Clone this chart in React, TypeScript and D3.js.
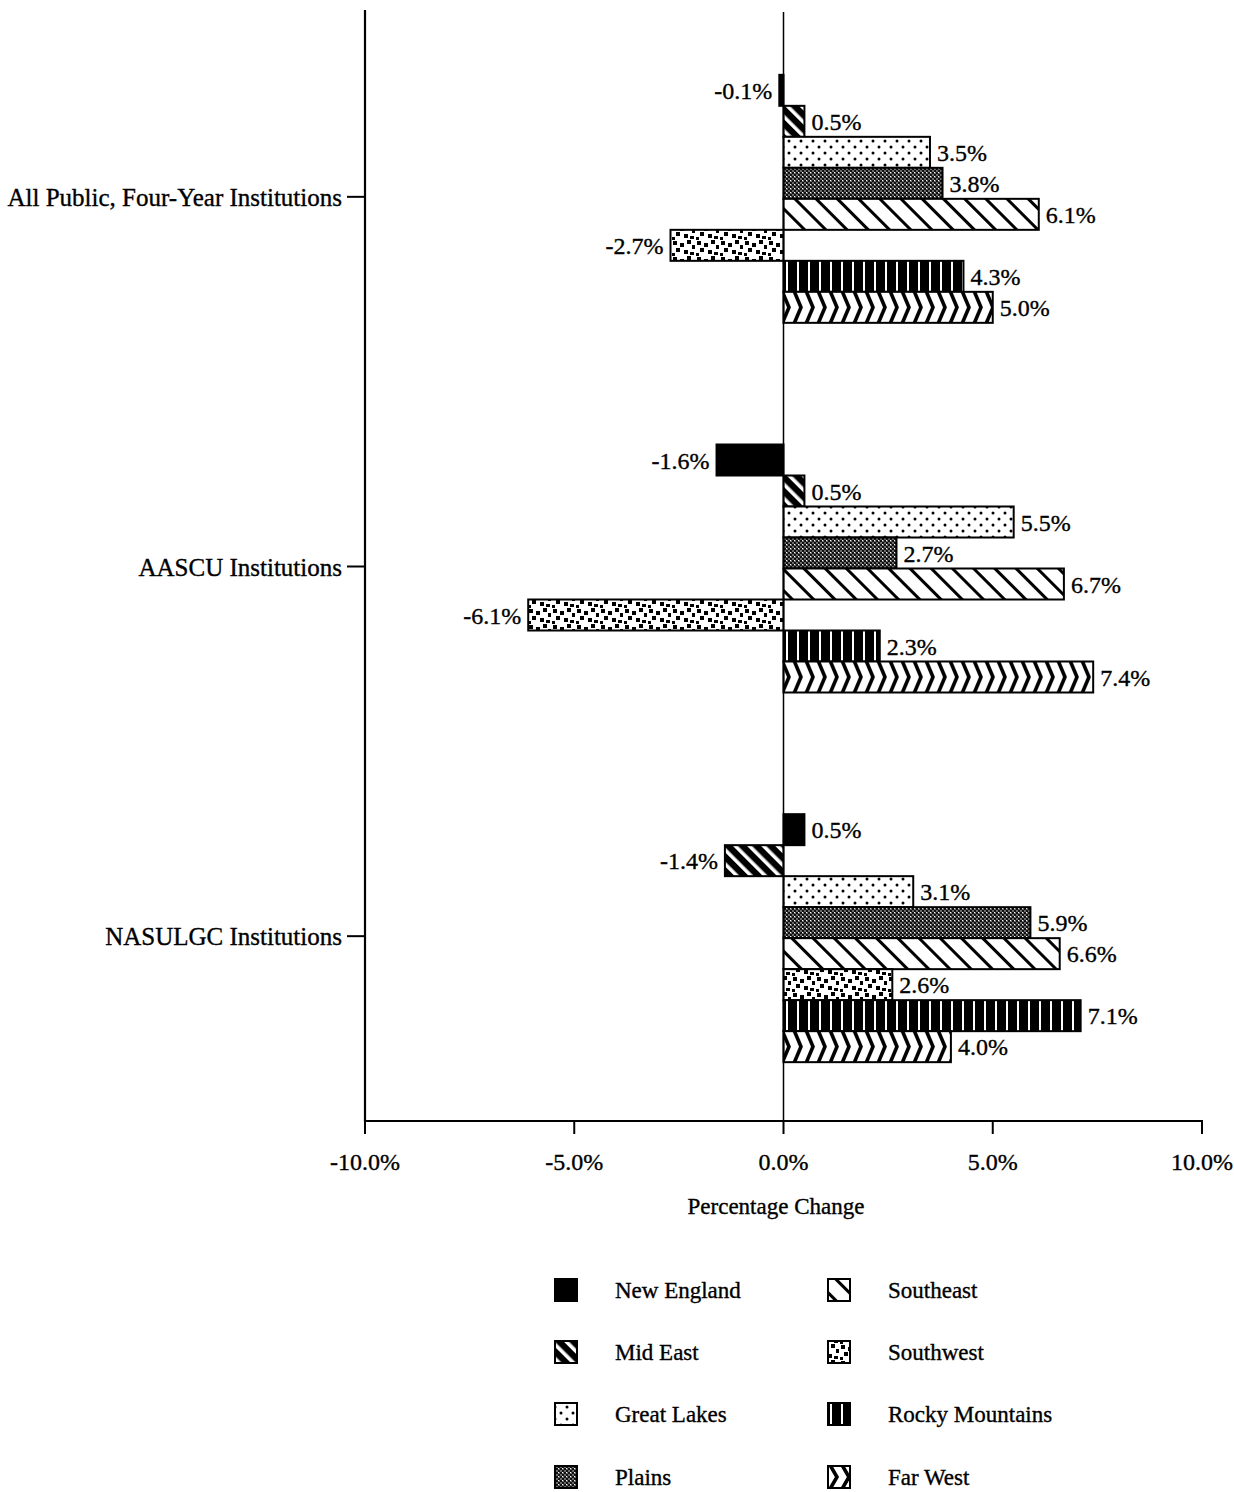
import React from "react";
import * as d3 from "d3";

const categories = [
  "All Public, Four-Year Institutions",
  "AASCU Institutions",
  "NASULGC Institutions",
];
const regions = [
  "New England",
  "Mid East",
  "Great Lakes",
  "Plains",
  "Southeast",
  "Southwest",
  "Rocky Mountains",
  "Far West",
];
const allPublic = [-0.1, 0.5, 3.5, 3.8, 6.1, -2.7, 4.3, 5.0];
const aascu = [-1.6, 0.5, 5.5, 2.7, 6.7, -6.1, 2.3, 7.4];
const nasulgc = [0.5, -1.4, 3.1, 5.9, 6.6, 2.6, 7.1, 4.0];
const seriesByCategory = [allPublic, aascu, nasulgc];
const xTicks = [-10, -5, 0, 5, 10];
const patternIds = ["ne", "me", "gl", "pl", "se", "sw", "rm", "fw"];

const FONT = "'Liberation Serif', 'Times New Roman', serif";

function chevronPattern(id: string, y0: number, h: number) {
  return (
    <pattern key={id} id={id} x={0} y={y0} width={12} height={h} patternUnits="userSpaceOnUse">
      <rect width={12} height={h} fill="#fff" />
      <path d={`M2,-1 L9,${h / 2} L2,${h + 1}`} stroke="#000" strokeWidth={3.6} fill="none" />
    </pattern>
  );
}

export default function App() {
  const width = 1234;
  const height = 1492;
  const x = d3.scaleLinear().domain([-10, 10]).range([365, 1202]);
  const y = d3.scalePoint<string>().domain(categories).range([12, 1121]).padding(0.5);
  const inner = d3.scaleBand<string>().domain(regions).range([-122, 126]).padding(0);
  const bw = inner.bandwidth();
  const axisY = 1121;
  const fmt = (v: number) => v.toFixed(1) + "%";

  const legendRows = [1290, 1352, 1414, 1477];
  const legendCols = [555, 828];
  const textStyle = { stroke: "#000", strokeWidth: 0.35 };

  const fillFor = (ri: number, ci: number) => {
    if (ri === 0) return "#000";
    if (ri === 7) return `url(#fw${ci})`;
    return `url(#${patternIds[ri]})`;
  };

  return (
    <svg
      width={width}
      height={height}
      style={{ position: "absolute", left: 0, top: 0, background: "#fff" }}
      fontFamily={FONT}
    >
      <defs>
        <pattern id="me" width="10" height="10" patternUnits="userSpaceOnUse" patternTransform="rotate(-45)">
          <rect width="10" height="10" fill="#000" />
          <rect x="0" width="3.6" height="10" fill="#fff" />
        </pattern>
        <pattern id="gl" width="12" height="12" patternUnits="userSpaceOnUse">
          <rect width="12" height="12" fill="#fff" />
          <circle cx="3" cy="3" r="1.5" fill="#000" />
          <circle cx="9" cy="9" r="1.5" fill="#000" />
        </pattern>
        <pattern id="pl" width="4" height="4" patternUnits="userSpaceOnUse">
          <rect width="4" height="4" fill="#6a6a6a" />
          <rect x="0" y="0" width="2" height="2" fill="#111" />
          <rect x="2" y="2" width="2" height="2" fill="#111" />
          <rect x="2" y="0" width="1" height="1" fill="#fff" />
        </pattern>
        <pattern id="se" width="15" height="15" patternUnits="userSpaceOnUse" patternTransform="rotate(-45)">
          <rect width="15" height="15" fill="#fff" />
          <rect x="0" width="3" height="15" fill="#000" />
        </pattern>
        <pattern id="sw" width="24" height="16" patternUnits="userSpaceOnUse">
          <rect width="24" height="16" fill="#fff" />
          <rect x="1" y="1" width="4" height="4" fill="#000" />
          <rect x="8" y="3" width="4" height="4" fill="#000" />
          <rect x="15" y="0" width="4" height="4" fill="#000" />
          <rect x="20" y="5" width="3" height="4" fill="#000" />
          <rect x="4" y="8" width="4" height="4" fill="#000" />
          <rect x="12" y="10" width="4" height="4" fill="#000" />
          <rect x="18" y="12" width="4" height="3" fill="#000" />
          <rect x="0" y="13" width="3" height="3" fill="#000" />
        </pattern>
        <pattern id="rm" width="11" height="11" patternUnits="userSpaceOnUse">
          <rect width="11" height="11" fill="#000" />
          <rect x="5" width="2" height="11" fill="#fff" />
        </pattern>
        {categories.map((cat, ci) =>
          chevronPattern(`fw${ci}`, (y(cat) as number) + (inner("Far West") as number), bw)
        )}
        {chevronPattern("fwLegend", legendRows[3] - 11, 22)}
      </defs>

      {/* bars */}
      {categories.map((cat, ci) =>
        seriesByCategory[ci].map((v, ri) => {
          const cy = (y(cat) as number) + (inner(regions[ri]) as number);
          const x0 = x(Math.min(0, v));
          const x1 = x(Math.max(0, v));
          return (
            <g key={cat + ri}>
              <rect
                x={x0}
                y={cy}
                width={Math.max(x1 - x0, 1)}
                height={bw}
                fill={fillFor(ri, ci)}
                stroke="#000"
                strokeWidth={2}
              />
              <text
                x={v >= 0 ? x1 + 7 : x0 - 7}
                y={cy + bw / 2}
                dy="0.36em"
                textAnchor={v >= 0 ? "start" : "end"}
                fontSize={24}
                style={textStyle}
              >
                {fmt(v)}
              </text>
            </g>
          );
        })
      )}

      {/* zero line */}
      <line x1={x(0)} x2={x(0)} y1={12} y2={axisY} stroke="#000" strokeWidth={1.5} />

      {/* y axis */}
      <line x1={x(-10)} x2={x(-10)} y1={10} y2={axisY + 1} stroke="#000" strokeWidth={2.2} />
      {categories.map((cat) => (
        <g key={cat}>
          <line x1={347} x2={x(-10)} y1={y(cat)} y2={y(cat)} stroke="#000" strokeWidth={2} />
          <text x={342} y={y(cat)} dy="0.36em" textAnchor="end" fontSize={25} style={textStyle}>
            {cat}
          </text>
        </g>
      ))}

      {/* x axis */}
      <line x1={x(-10) - 1} x2={x(10) + 1} y1={axisY} y2={axisY} stroke="#000" strokeWidth={2.2} />
      {xTicks.map((t) => (
        <g key={t}>
          <line x1={x(t)} x2={x(t)} y1={axisY} y2={axisY + 13} stroke="#000" strokeWidth={2} />
          <text x={x(t)} y={1170} textAnchor="middle" fontSize={24} style={textStyle}>
            {fmt(t)}
          </text>
        </g>
      ))}
      <text x={776} y={1214} textAnchor="middle" fontSize={23} style={textStyle}>
        Percentage Change
      </text>

      {/* legend */}
      {regions.map((r, i) => {
        const col = Math.floor(i / 4);
        const row = i % 4;
        const lx = legendCols[col];
        const ly = legendRows[row];
        const fill = i === 0 ? "#000" : i === 7 ? "url(#fwLegend)" : `url(#${patternIds[i]})`;
        return (
          <g key={r}>
            <rect x={lx} y={ly - 11} width={22} height={22} fill={fill} stroke="#000" strokeWidth={2} />
            <text x={lx + 60} y={ly} dy="0.36em" fontSize={23} style={textStyle}>
              {r}
            </text>
          </g>
        );
      })}
    </svg>
  );
}
